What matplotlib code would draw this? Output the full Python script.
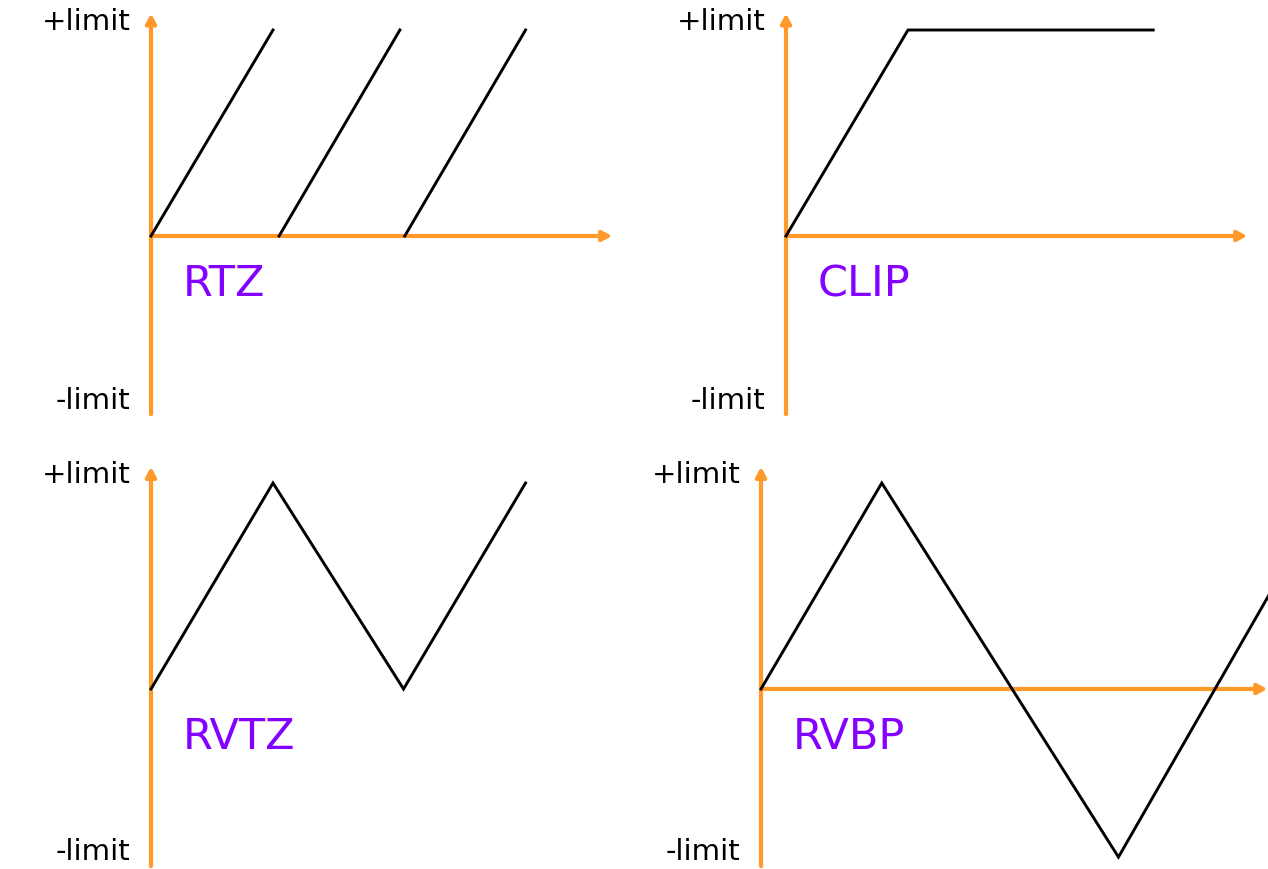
"""
Output modes of a limited counter: RTZ, CLIP, RVTZ and RVBP.
Four small sketches, each with an orange pair of axes and a black waveform.
"""

import matplotlib
matplotlib.use('Agg')
import matplotlib.pyplot as plt
import numpy as np

# Waveform vertices: x in ramp lengths, y in units of the limit
rtz_starts = [0.0, 1.05, 2.08]
rtz_ends = [1.0, 2.04, 3.07]

clip_x = [0.0, 1.0, 3.01]
clip_y = [0.0, 1.0, 1.0]

rvtz_x = [0.0, 1.0, 2.07, 3.07]
rvtz_y = [0.0, 1.0, 0.0, 1.0]

rvbp_x = [0.0, 0.99, 2.93, 4.4]
rvbp_y = [0.0, 1.0, -0.816, 0.70]

mode_names = ['RTZ', 'CLIP', 'RVTZ', 'RVBP']
limit_labels = ['+limit', '-limit']

ORANGE = '#ff9a2a'
PURPLE = '#8400ff'

W, H = 1268, 869
XU, YU = 122.0, 206.0   # pixels per data unit


def make_panel(fig, left, right, top, bottom, ox, oy):
    """Axes covering a pixel box, with data origin at pixel (ox, oy)."""
    ax = fig.add_axes([left / W, 1 - bottom / H, (right - left) / W, (bottom - top) / H])
    ax.set_xlim((left - ox) / XU, (right - ox) / XU)
    ax.set_ylim((oy - bottom) / YU, (oy - top) / YU)
    ax.axis('off')
    return ax


def draw_axes(ax, x_end, y_top, y_bottom, neg_y):
    arrow = dict(arrowstyle='-|>,head_length=0.55,head_width=0.3', color=ORANGE,
                 lw=3, shrinkA=0, shrinkB=0, mutation_scale=10)
    ax.annotate('', xy=(x_end, 0), xytext=(0, 0), arrowprops=arrow, zorder=1)
    ax.annotate('', xy=(0, y_top), xytext=(0, y_bottom), arrowprops=arrow, zorder=1)
    ax.text(-0.17, 1.04, limit_labels[0], ha='right', va='center', fontsize=21)
    ax.text(-0.17, neg_y, limit_labels[1], ha='right', va='center', fontsize=21)


fig = plt.figure(figsize=(W / 100, H / 100), dpi=100)

line_kw = dict(color='black', lw=2.1, solid_joinstyle='miter', zorder=2)
name_kw = dict(color=PURPLE, fontsize=31, ha='left', va='center')

# RTZ
ax1 = make_panel(fig, 0, 620, 0, 434, 151, 236)
draw_axes(ax1, 3.78, 1.08, -0.865, -0.80)
for s, e in zip(rtz_starts, rtz_ends):
    ax1.plot([s, e], [0, 1], **line_kw)
ax1.text(0.26, -0.235, mode_names[0], **name_kw)

# CLIP
ax2 = make_panel(fig, 630, W, 0, 434, 786, 236)
draw_axes(ax2, 3.78, 1.08, -0.865, -0.80)
ax2.plot(clip_x, clip_y, **line_kw)
ax2.text(0.26, -0.235, mode_names[1], **name_kw)

# RVTZ
ax3 = make_panel(fig, 0, 605, 434, H, 151, 689)
draw_axes(ax3, 3.78, 1.078, -0.86, -0.79)
ax3.plot(rvtz_x, rvtz_y, **line_kw)
ax3.text(0.26, -0.235, mode_names[2], **name_kw)

# RVBP
ax4 = make_panel(fig, 605, W, 434, H, 761, 689)
draw_axes(ax4, 4.15, 1.078, -0.86, -0.79)
ax4.plot(rvbp_x, rvbp_y, **line_kw)
ax4.text(0.26, -0.235, mode_names[3], **name_kw)

plt.savefig('out.png', dpi=100, facecolor='white')
plt.close()
